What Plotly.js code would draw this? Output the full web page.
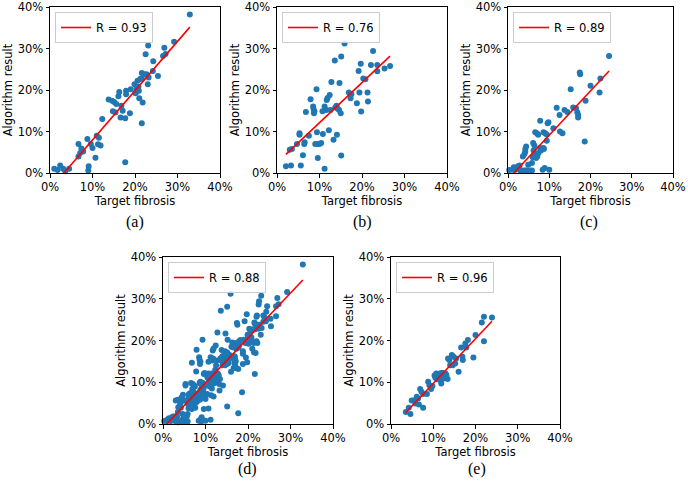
<!DOCTYPE html>
<html>
<head>
<meta charset="utf-8">
<script src="https://cdn.plot.ly/plotly-3.0.1.min.js"></script>
<style>html,body{margin:0;padding:0;background:#fff;}#chart{width:688px;height:483px;}</style>
</head>
<body>
<div id="chart"></div>
<script>
// ---- Data (values in percent) ----
const aX = [1.0,1.8,2.4,3.1,3.6,4.5,6.7,6.7,7.4,7.1,7.8,8.8,9.1,9.0,9.6,10.0,10.7,11.0,11.3,11.5,11.9,12.3,13.8,14.6,14.8,15.1,15.6,15.4,16.1,16.3,16.6,16.8,17.1,17.7,17.9,17.9,17.7,18.8,19.0,19.9,20.1,20.4,20.4,20.6,20.8,21.0,20.9,21.3,21.6,21.6,21.8,21.6,22.2,22.5,22.7,23.1,23.0,23.2,24.2,24.3,25.4,26.6,26.9,27.2,29.2,32.9];
const aY = [1.0,0.7,1.8,1.0,0.4,1.0,7.0,4.0,5.9,4.8,5.2,8.2,1.6,0.6,7.0,6.0,3.7,9.0,6.9,8.5,6.6,13.0,17.7,17.4,14.9,17.1,16.6,14.6,18.5,19.5,13.4,16.2,15.0,13.2,19.8,19.0,2.6,14.4,20.2,21.4,19.2,20.4,19.6,22.2,20.8,18.0,19.8,22.7,24.1,22.7,17.0,12.0,23.8,28.6,23.8,30.7,21.4,23.0,24.6,26.9,23.4,28.2,30.2,28.7,31.6,38.2];

const bX = [2.1,3.3,5.6,3.0,3.5,4.7,5.3,5.3,6.1,6.4,6.5,6.8,7.5,7.9,8.5,8.6,8.7,8.8,9.3,9.0,9.4,9.6,9.6,10.0,10.4,10.7,10.8,11.2,11.2,11.6,11.7,11.9,12.2,12.4,12.8,12.6,13.3,13.6,14.0,13.7,14.1,14.3,14.6,14.7,15.0,15.1,15.1,15.9,16.9,17.3,17.5,18.8,19.2,19.4,19.7,19.8,20.3,20.8,21.3,21.4,22.1,22.6,23.6,23.6,25.3,26.6];
const bY = [1.6,1.8,1.8,5.6,5.8,7.0,9.6,9.2,4.3,7.0,7.4,14.7,9.0,17.8,16.0,15.4,14.4,14.9,20.2,7.0,9.8,3.6,7.0,7.0,7.2,14.9,9.4,1.0,16.0,15.2,17.6,18.1,10.3,18.8,21.9,15.2,8.0,27.1,16.2,15.8,9.2,15.5,15.2,21.7,14.4,28.1,4.2,31.2,19.4,18.0,19.0,16.8,24.6,19.4,26.3,14.8,22.8,22.6,19.4,17.2,26.0,29.4,26.0,24.5,25.2,25.8];

const cX = [0.3,1.0,1.4,1.8,2.4,2.8,3.0,3.4,4.0,4.4,4.8,5.4,5.8,3.6,4.0,4.2,4.2,4.4,4.9,5.8,6.0,6.2,6.1,6.4,6.5,6.6,7.0,6.8,7.1,7.3,7.4,7.8,7.8,8.0,8.4,8.6,8.7,8.9,8.6,9.0,9.4,9.4,9.6,9.8,10.0,11.0,11.8,12.5,12.6,13.2,13.7,14.4,15.2,15.8,16.5,16.8,17.0,17.0,17.4,17.5,18.6,18.8,20.0,22.2,22.4,24.5];
const cY = [0.7,0.8,1.4,0.8,1.6,1.8,0.6,0.6,0.6,0.6,0.6,0.6,0.6,4.0,4.6,5.2,5.8,6.4,2.0,2.4,3.8,5.4,7.2,6.6,4.4,9.8,9.6,3.6,4.0,9.2,4.8,6.0,12.6,5.4,0.8,6.0,5.8,1.2,9.8,9.6,9.3,7.8,12.0,12.2,0.8,10.8,15.7,14.0,10.0,9.6,15.2,14.7,20.2,15.8,15.6,14.6,14.0,13.4,24.2,23.8,7.6,17.4,21.0,19.4,22.8,28.2];

const eX = [3.5,4.6,4.2,4.9,5.5,5.8,6.1,6.4,6.6,6.9,7.2,7.6,7.6,8.5,8.8,9.1,9.5,9.8,10.3,10.5,10.7,10.9,11.1,11.3,11.5,11.7,11.9,11.9,12.1,12.4,12.7,12.9,13.1,13.4,13.5,13.8,14.0,14.4,14.6,14.8,15.2,15.4,16.0,16.6,16.9,17.0,17.6,17.8,18.2,19.5,20.0,21.5,22.0,22.0,23.9];
const eY = [2.9,2.4,3.9,5.6,5.7,4.9,6.5,6.1,4.7,8.4,7.7,3.9,7.2,7.2,10.1,9.3,8.4,9.1,11.6,11.1,12.1,10.7,11.7,11.3,12.1,10.5,9.7,11.5,12.3,10.9,11.3,12.1,11.7,10.8,15.7,15.3,14.1,16.5,14.1,16.1,14.5,15.7,12.5,18.3,16.1,15.3,19.3,18.3,20.1,15.9,21.3,24.3,25.7,19.8,25.5];

// panel (d) pools all samples of (a), (b), (c) and (e)
const dX = aX.concat(bX, cX, eX);
const dY = aY.concat(bY, cY, eY);

const rLabels = ['0.93', '0.76', '0.89', '0.88', '0.96'];
const panelLabels = ['(a)', '(b)', '(c)', '(d)', '(e)'];
const tickVals = [0, 10, 20, 30, 40];
const tickText = ['0%', '10%', '20%', '30%', '40%'];
const xTitle = 'Target fibrosis';
const yTitle = 'Algorithm result';

// ---- Layout geometry (pixels) ----
const W = 688, H = 483;
const series = [[aX, aY], [bX, bY], [cX, cY], [dX, dY], [eX, eY]];
const boxes = [
  {x0: 50, x1: 220, y0: 7, y1: 173, lx: 135, ly: 222},
  {x0: 277, x1: 447, y0: 7, y1: 173, lx: 362, ly: 222},
  {x0: 508, x1: 673, y0: 7, y1: 173, lx: 589, ly: 222},
  {x0: 163, x1: 333, y0: 257, y1: 424, lx: 248, ly: 469},
  {x0: 391, x1: 560, y0: 257, y1: 424, lx: 477, ly: 469}
];

function linfit(x, y) {
  const n = x.length;
  let sx = 0, sy = 0, sxx = 0, sxy = 0;
  for (let i = 0; i < n; i++) { sx += x[i]; sy += y[i]; sxx += x[i]*x[i]; sxy += x[i]*y[i]; }
  const m = (n*sxy - sx*sy) / (n*sxx - sx*sx);
  const b = (sy - m*sx) / n;
  return {m, b};
}

const FONT = 'DejaVu Sans, sans-serif';
const FS = 11.5;
const traces = [];
const layout = {
  width: W, height: H,
  margin: {l: 0, r: 0, t: 0, b: 0},
  paper_bgcolor: '#fff', plot_bgcolor: '#fff',
  showlegend: true,
  font: {family: FONT, size: FS, color: '#000'},
  annotations: []
};

series.forEach((s, i) => {
  const k = i === 0 ? '' : String(i + 1);
  const bx = boxes[i];
  const xs = s[0], ys = s[1];
  traces.push({
    type: 'scatter', mode: 'markers', x: xs, y: ys,
    xaxis: 'x' + k, yaxis: 'y' + k,
    marker: {color: '#1f77b4', size: 6},
    cliponaxis: false, showlegend: false, hoverinfo: 'skip'
  });
  const f = linfit(xs, ys);
  const xmin = Math.min(...xs), xmax = Math.max(...xs);
  traces.push({
    type: 'scatter', mode: 'lines',
    x: [xmin, xmax], y: [f.m*xmin + f.b, f.m*xmax + f.b],
    xaxis: 'x' + k, yaxis: 'y' + k,
    line: {color: '#ff0000', width: 1.6},
    name: 'R = ' + rLabels[i],
    legend: 'legend' + k, showlegend: true, hoverinfo: 'skip'
  });
  const common = {
    range: [0, 40], tickmode: 'array', tickvals: tickVals, ticktext: tickText,
    showgrid: false, zeroline: false, showline: true, mirror: true,
    linecolor: '#000', linewidth: 1,
    ticks: 'outside', ticklen: 3.5, tickwidth: 1, tickcolor: '#000',
    tickfont: {family: FONT, size: FS, color: '#000'},
    automargin: false, fixedrange: true
  };
  layout['xaxis' + k] = Object.assign({}, common, {
    domain: [bx.x0 / W, bx.x1 / W], anchor: 'y' + k,
    title: {text: xTitle, font: {family: FONT, size: FS, color: '#000'}, standoff: 3}
  });
  layout['yaxis' + k] = Object.assign({}, common, {
    domain: [1 - bx.y1 / H, 1 - bx.y0 / H], anchor: 'x' + k,
    title: {text: yTitle, font: {family: FONT, size: FS, color: '#000'}, standoff: 2}
  });
  layout['legend' + k] = {
    x: (bx.x0 + 5) / W, y: 1 - (bx.y0 + 5) / H,
    xanchor: 'left', yanchor: 'top',
    bgcolor: 'rgba(255,255,255,0.85)', bordercolor: '#cccccc', borderwidth: 1,
    font: {family: FONT, size: FS, color: '#000'}
  };
  layout.annotations.push({
    text: panelLabels[i], xref: 'paper', yref: 'paper',
    x: bx.lx / W, y: 1 - bx.ly / H, xanchor: 'center', yanchor: 'middle',
    showarrow: false, font: {family: 'Liberation Serif, serif', size: 16, color: '#000'}
  });
});

Plotly.newPlot('chart', traces, layout, {staticPlot: true, displayModeBar: false});
</script>
</body>
</html>
